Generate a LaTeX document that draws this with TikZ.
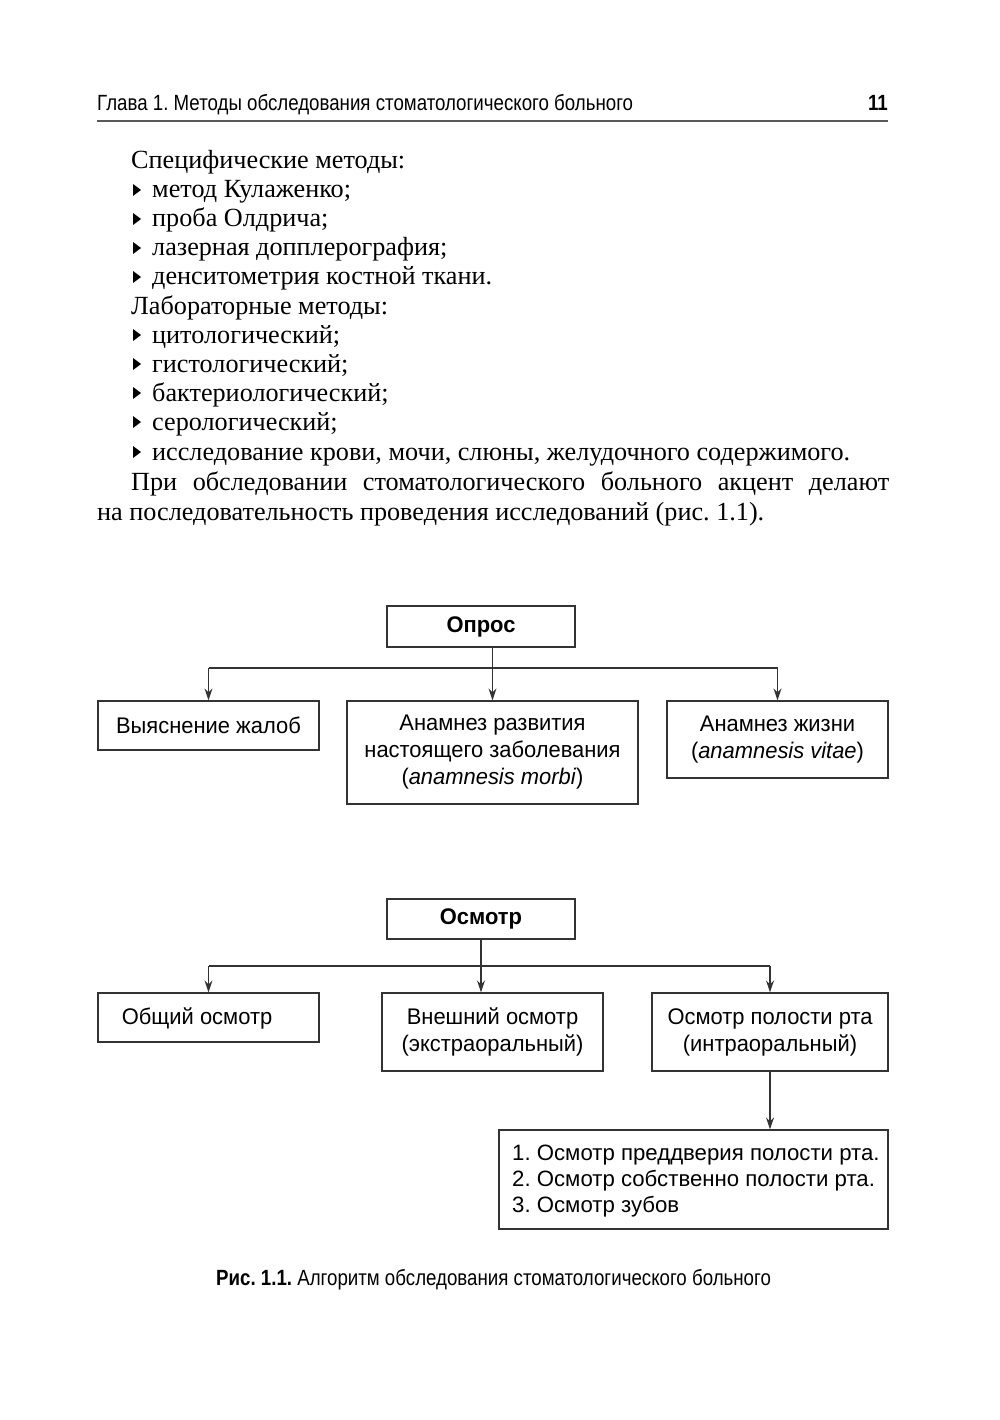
\documentclass[tikz,border=0pt]{standalone}
\usepackage{fontspec}
\setmainfont{Liberation Serif}
\newfontfamily\sansf{Liberation Sans}
\newfontfamily\condf[FakeStretch=0.85]{Liberation Sans}
\newfontfamily\boxf[FakeStretch=0.97]{Liberation Sans}
\usetikzlibrary{arrows.meta}
\frenchspacing
\begin{document}
\begin{tikzpicture}[x=1pt,y=-1pt,
  body/.style={anchor=base west,inner sep=0pt,font=\fontsize{26.2}{29}\selectfont},
  bul/.style={fill=black},
  flowbox/.style={draw=black!80,line width=1.2pt,inner sep=0pt,align=center,
     font=\boxf\fontsize{22.6}{27}\selectfont},
  headbox/.style={flowbox,font=\boxf\bfseries\fontsize{22.6}{27}\selectfont},
  conn/.style={draw=black!80,line width=1.2pt},
  arr/.style={conn,-{Stealth[length=12pt,width=8pt]}}]
\useasboundingbox (0,0) rectangle (1000,1420);
% header
\node[anchor=base west,inner sep=0pt,font=\condf\fontsize{22}{25}\selectfont] (hd) at (97,111) {Глава 1. Методы обследования стоматологического больного};
\node[anchor=base east,inner sep=0pt,font=\condf\bfseries\fontsize{22}{25}\selectfont] (pg) at (888,111) {11};
\draw[black!65,line width=2pt] (97,121) -- (888,121);
% body text
\node[body] (t1) at (131,169) {Специфические методы:};
\node[body] (t2) at (152,198) {метод Кулаженко;};
\node[body] (t3) at (152,227) {проба Олдрича;};
\node[body] (t4) at (152,256) {лазерная допплерография;};
\node[body] (t5) at (152,285) {денситометрия костной ткани.};
\node[body] (t6) at (131,314) {Лабораторные методы:};
\node[body] (t7) at (152,343) {цитологический;};
\node[body] (t8) at (152,372) {гистологический;};
\node[body] (t9) at (152,401) {бактериологический;};
\node[body] (t10) at (152,430) {серологический;};
\node[body] (t11) at (152,460) {исследование крови, мочи, слюны, желудочного содержимого.};
\node[body] (t12) at (131,490) {\makebox[758pt][s]{При обследовании стоматологического больного акцент делают}};
\node[body] (t13) at (97,520) {на последовательность проведения исследований (рис.~1.1).};
\foreach \b in {198,227,256,285,343,372,401,430,460}{
  \fill[bul] (133,\b-14) -- (141,\b-8) -- (133,\b-2) -- cycle;
}
% diagram 1
\node[headbox,minimum width=188pt,minimum height=41pt] (opros) at (481,626.5) {Опрос};
\node[flowbox,minimum width=221pt,minimum height=49pt] (a1) at (208.5,725.5) {Выяснение жалоб};
\node[flowbox,minimum width=291pt,minimum height=103pt] (a2) at (492.5,752.5) {Анамнез развития\\настоящего заболевания\\(\textit{anamnesis morbi})};
\node[flowbox,minimum width=221pt,minimum height=77pt] (a3) at (777.5,739.5) {Анамнез жизни\\(\textit{anamnesis vitae})};
\coordinate (j1) at (492.5,668);
\draw[conn] (a1.north |- j1) -- (a3.north |- j1);
\draw[arr] (a2.north |- opros.south) -- (a2.north);
\draw[arr] (a1.north |- j1) -- (a1.north);
\draw[arr] (a3.north |- j1) -- (a3.north);
% diagram 2
\node[headbox,minimum width=188pt,minimum height=40pt] (osm) at (481,919) {Осмотр};
\node[flowbox,minimum width=221pt,minimum height=49pt] (b1) at (208.5,1017.5) {};
\node[anchor=center,inner sep=0pt,font=\boxf\fontsize{22.6}{27}\selectfont] (b1t) at (197,1018) {Общий осмотр};
\node[flowbox,minimum width=221pt,minimum height=78pt] (b2) at (492.5,1032) {Внешний осмотр\\(экстраоральный)};
\node[flowbox,minimum width=236pt,minimum height=78pt] (b3) at (770,1032) {Осмотр полости рта\\(интраоральный)};
\coordinate (j2) at (481,966);
\draw[conn] (b1.north |- j2) -- (b3.north |- j2);
\draw[arr] (osm.south) -- (osm.south |- b2.north);
\draw[arr] (b1.north |- j2) -- (b1.north);
\draw[arr] (b3.north |- j2) -- (b3.north);
\node[flowbox,minimum width=389pt,minimum height=99pt] (lst) at (693.5,1179.5) {};
\node[anchor=west,inner sep=0pt,align=left,font=\sansf\fontsize{22.2}{26}\selectfont] (lstt) at (512,1181) {1. Осмотр преддверия полости рта.\\2. Осмотр собственно полости рта.\\3. Осмотр зубов};
\draw[arr] (b3.south) -- (b3.south |- lst.north);
% caption
\node[anchor=base west,inner sep=0pt,font=\condf\fontsize{22}{25}\selectfont] (cap) at (216,1285) {\textbf{Рис.~1.1.} Алгоритм обследования стоматологического больного};
\end{tikzpicture}
\end{document}
